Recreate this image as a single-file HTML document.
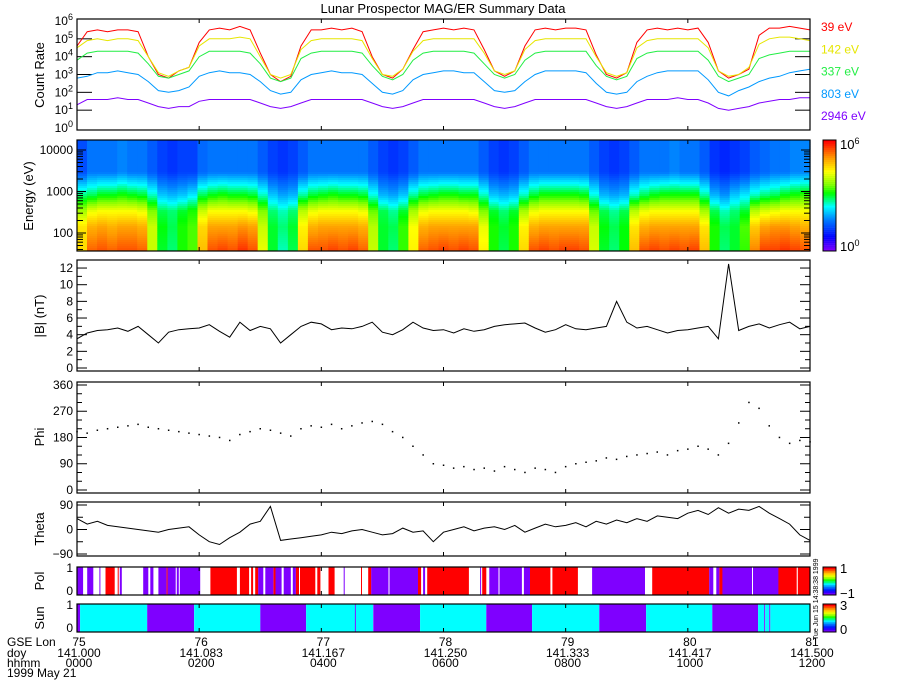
<!DOCTYPE html>
<html><head><meta charset="utf-8"><style>
html,body{margin:0;padding:0;background:#fff;}
svg{display:block;font-family:"Liberation Sans",sans-serif;}
text{font-size:12px;fill:#000;}
</style></head><body>
<svg id="chart" width="900" height="700" viewBox="0 0 900 700" xmlns="http://www.w3.org/2000/svg">
<rect x="0" y="0" width="900" height="700" fill="#fff"/>
<text x="443" y="13" text-anchor="middle" style="font-size:13px">Lunar Prospector MAG/ER Summary Data</text>
<g id="g"></g>
</svg>
<script>
// ---- data (10-minute samples, 0000-1200 UT) ----
const lonTicks = ["75","76","77","78","79","80","81"];
const doyTicks = ["141.000","141.083","141.167","141.250","141.333","141.417","141.500"];
const hhmmTicks = ["0000","0200","0400","0600","0800","1000","1200"];
const channelNames = ["39 eV","142 eV","337 eV","803 eV","2946 eV"];
const channelEnergy = [39,142,337,803,2946];
const log39 = [4.6,5.4,5.5,5.4,5.5,5.5,5.4, 4.0,3.0,2.8,3.2,3.4, 4.8,5.5,5.6,5.5,5.7,5.5, 4.2,3.0,2.6,2.9, 4.6,5.5,5.5,5.6,5.5,5.6,5.4, 4.0,3.0,2.8,3.3, 4.4,5.4,5.5,5.6,5.5,5.6,5.5, 4.4,3.2,2.9,3.2, 4.6,5.5,5.6,5.5,5.6,5.6,5.5, 4.1,3.0,2.8,3.1, 4.8,5.5,5.6,5.5,5.6,5.5,5.6, 4.8,3.2,2.8,3.0,3.3, 5.2,5.6,5.6,5.7,5.6,5.5];
const log142 = [4.5,4.9,5.0,4.9,5.0,5.0,4.9, 4.0,3.1,2.9,3.2,3.4, 4.6,5.0,5.0,5.0,5.1,5.0, 4.0,3.0,2.8,3.0, 4.4,4.9,5.0,5.0,5.0,5.0,4.9, 3.9,3.0,2.9,3.3, 4.3,4.9,5.0,5.0,5.0,5.0,5.0, 4.2,3.2,3.0,3.2, 4.4,4.9,5.0,5.0,5.0,5.0,5.0, 4.0,3.1,2.9,3.1, 4.5,4.9,5.0,5.0,5.0,5.0,5.0, 4.5,3.2,2.9,3.0,3.4, 4.7,5.0,5.1,5.1,5.0,4.9];
const log337 = [3.8,4.2,4.3,4.3,4.3,4.3,4.2, 3.6,2.9,2.8,3.0,3.2, 4.0,4.3,4.3,4.3,4.3,4.2, 3.6,2.8,2.6,2.8, 3.9,4.2,4.3,4.3,4.3,4.3,4.2, 3.5,2.9,2.7,3.0, 3.8,4.2,4.3,4.3,4.3,4.3,4.2, 3.6,3.0,2.8,3.0, 3.8,4.2,4.3,4.3,4.3,4.3,4.3, 3.5,2.9,2.7,2.9, 3.9,4.2,4.3,4.3,4.3,4.3,4.3, 3.8,2.9,2.6,2.8,3.0, 3.9,4.1,4.2,4.3,4.3,4.3];
const log803 = [2.8,2.9,3.1,3.1,3.2,3.1,3.0, 2.6,2.1,2.0,2.1,2.3, 2.9,3.1,3.2,3.1,3.1,3.0, 2.6,2.1,1.9,2.0, 2.7,3.0,3.1,3.2,3.1,3.1,3.0, 2.5,2.0,1.9,2.1, 2.7,3.0,3.1,3.2,3.2,3.1,3.1, 2.6,2.1,2.0,2.1, 2.6,3.0,3.2,3.2,3.2,3.2,3.1, 2.5,2.0,1.9,2.0, 2.6,2.9,3.1,3.2,3.2,3.2,3.2, 2.7,2.0,1.8,2.1,2.3, 2.6,2.8,2.9,3.1,3.2,3.3];
const log2946 = [1.3,1.6,1.6,1.6,1.7,1.6,1.6, 1.4,1.2,1.1,1.2,1.2, 1.5,1.6,1.6,1.6,1.6,1.6, 1.4,1.2,1.1,1.2, 1.4,1.6,1.6,1.6,1.6,1.6,1.6, 1.4,1.2,1.1,1.2, 1.4,1.6,1.6,1.6,1.6,1.6,1.6, 1.4,1.2,1.1,1.2, 1.4,1.6,1.6,1.6,1.6,1.6,1.6, 1.4,1.2,1.1,1.2, 1.4,1.6,1.6,1.6,1.7,1.6,1.6, 1.4,1.1,1.0,1.1,1.2, 1.4,1.5,1.6,1.6,1.7,1.7];
const bMag = [3.5,4.2,4.5,4.6,4.8,4.4,5.0,4.0,3.0,4.3,4.6,4.7,4.8,5.2,4.4,3.7,5.5,4.5,5.0,4.7,3.0,4.0,5.0,5.5,5.3,4.6,4.8,4.7,5.0,5.5,4.3,4.0,4.6,5.5,4.8,4.5,4.6,4.2,4.7,4.4,4.6,5.0,5.2,5.3,5.4,4.8,4.3,4.6,5.2,4.7,4.6,4.8,5.0,8.0,5.5,4.8,5.0,4.6,4.2,4.5,4.6,4.8,5.0,3.5,12.5,4.5,5.0,5.3,4.8,5.2,5.5,4.7,5.0];
const phiDeg = [200,195,205,210,215,220,225,215,210,205,200, 195,190,185,180,170,190,200,210,205,195,185, 210,220,215,225,210,220,230,235,225,200,180, 150,120,90,85,75,80,70,75,65,80,70,60,75,70,60,80,90,95,100,110,105,115,120,125,130,120,135,140,150,140,120,160,230,300,280,220,180,160,170,165];
const thetaDeg = [40,20,30,15,10,5,0,-5,-10,0,5,10, -20,-45,-55,-30,-10,20,30,85,-40,-35,-30,-25,-20,-10,-15,-5,0,-10,-20,-15, 5,-10,-5,-45,-10,0,10,-5,5,10,0,15,-10,5,20,10,15,25,10,30, 20,35,25,40,30,50,45,40,60,70,55,80,60,75,70,85,60,40,20,-20,-40];
const polStart = [0,6,10,16,22,23,28,37,40,41,42,44,65,70,72,75,80,88,89,97,98,100,101,121,131,157,160,169,171,173,175,178,183,185,193,195,201,203,210,212,215,218,219,234,236,239,247,253,262,263,279,280,286,289,306,307,335,338,340,342,344,385,396,397,398,402,405,414,415,437,439,445,465,467,492,506,558,565,621,625,628,631,634,638,663,664,689,707,708];
const polVal   = [-1,0,-1,0,-1,0,1,0,1,0,-1,0,-1,0,-1,0,-1,1,-1,0,-1,0,-1,0,1,0,1,0,1,0,1,-1,0,-1,1,-1,0,-1,0,-1,1,0,1,0,1,0,1,0,-1,0,1,0,1,-1,0,-1,1,0,-1,0,1,0,-1,0,1,0,-1,0,-1,0,-1,1,0,1,0,-1,0,1,-1,0,-1,1,-1,-1,0,-1,1,0,1];
const sunStart = [0,3,69,115,180,225,273,274,291,337,402,447,513,559,624,669,675,676,680,681];
const sunVal   = [0,1,0,1,0,1,0,1,0,1,0,1,0,1,0,1,0,1,0,1];

const NS="http://www.w3.org/2000/svg";
const G=document.getElementById('g');
function mk(tag,attrs,parent){const e=document.createElementNS(NS,tag);for(const k in attrs)e.setAttribute(k,attrs[k]);(parent||G).appendChild(e);return e;}
const X0=77,X1=810;
function xMin(m){return X0+(X1-X0)*m/720;}
function xIdx(i,n){return X0+(X1-X0)*i/(n-1);}
function rainbow(f){
  const st=[[0,125,0,255],[0.12,0,0,255],[0.28,0,128,255],[0.4,0,255,255],[0.52,0,255,0],[0.6,128,255,0],[0.72,255,255,0],[0.85,255,150,0],[1,255,0,0]];
  f=Math.max(0,Math.min(1,f));
  for(let k=1;k<st.length;k++){if(f<=st[k][0]){const a=st[k-1],b=st[k],t=(f-a[0])/(b[0]-a[0]);return `rgb(${Math.round(a[1]+t*(b[1]-a[1]))},${Math.round(a[2]+t*(b[2]-a[2]))},${Math.round(a[3]+t*(b[3]-a[3]))})`;}}
  return 'rgb(255,0,0)';
}
function label(txt,x,y,opts){const t=mk('text',Object.assign({x:x,y:y},opts||{}));t.textContent=txt;return t;}
function ylabel(txt,cx,cy,name){const t=mk('text',{x:cx,y:cy,'text-anchor':'middle',transform:`rotate(-90 ${cx} ${cy})`,style:'font-size:13px'});t.textContent=txt;

}
function frame(y0,y1,name){const r=mk('rect',{x:X0,y:y0,width:X1-X0,height:y1-y0,fill:'none',stroke:'#000','stroke-width':1.2});


for(let k=0;k<lonTicks.length;k++){const x=X0+(X1-X0)*k/(lonTicks.length-1);mk('line',{x1:x,x2:x,y1:y0,y2:y0+4,stroke:'#000'});mk('line',{x1:x,x2:x,y1:y1,y2:y1-4,stroke:'#000'});}}
function yTick(y,len){mk('line',{x1:X0,x2:X0+len,y1:y,y2:y,stroke:'#000'});mk('line',{x1:X1,x2:X1-len,y1:y,y2:y,stroke:'#000'});}

// ---- Panel 1: count rate ----
const P1={y0:19,y1:130};
function yCR(v){return 128-v*(107/6);}
const crSeries=[log39,log142,log337,log803,log2946];
const crColors=['#ff0000','#e6e600','#22ee44','#0099ff','#7f00ff'];
for(let d=0;d<=6;d++){const y=yCR(d);if(d>0&&d<6)yTick(y,15);
 const t=mk('text',{x:73,y:y+4,'text-anchor':'end'});t.innerHTML=`10<tspan dy="-5" style="font-size:9px">${d}</tspan>`;
 
 }
crSeries.forEach((s,si)=>{
 const pts=s.map((v,i)=>xIdx(i,s.length).toFixed(1)+','+yCR(v).toFixed(1)).join(' ');
 const pl=mk('polyline',{points:pts,fill:'none',stroke:crColors[si],'stroke-width':1});
 
 
 const lt=label(channelNames[si],821,31+si*22.3,{style:'fill:'+crColors[si]});
 
 
});
frame(P1.y0,P1.y1,'count-rate-panel');
ylabel('Count Rate',44,75,'count-rate-axis-title');

// ---- Panel 2: spectrogram ----
const P2={y0:140,y1:251};
function yE(le){return 233-(le-2)*41.5;}
const leTop=2+(233-P2.y0)/41.5, leBot=2-(P2.y1-233)/41.5;
const cLog=channelEnergy.map(e=>Math.log10(e));
function specVal(i,le){
 const v=crSeries.map(s=>s[i]);
 if(le<=cLog[0])return v[0];
 if(le>=cLog[4])return v[4];
 for(let k=1;k<5;k++){if(le<=cLog[k]){const t=(le-cLog[k-1])/(cLog[k]-cLog[k-1]);return v[k-1]+t*(v[k]-v[k-1]);}}
}
const nCol=log39.length, rowH=2;
for(let i=0;i<nCol;i++){
 const xa=X0+(X1-X0)*i/nCol, xb=X0+(X1-X0)*(i+1)/nCol;
 for(let y=P2.y0;y<P2.y1;y+=rowH){
  const le=2-((y+rowH/2)-233)/41.5;
  const c=mk('rect',{x:xa.toFixed(1),y:y,width:(xb-xa+0.6).toFixed(1),height:Math.min(rowH+0.3,P2.y1-y),fill:rainbow(specVal(i,le)/6)});
  
  
 }
}
[[100,'100'],[1000,'1000'],[10000,'10000']].forEach(([e,s])=>{const t=label(s,73,yE(Math.log10(e))+4,{'text-anchor':'end'});
 
 });
for(let dec=1;dec<=4;dec++)for(let m=1;m<10;m++){const le=dec+Math.log10(m);if(le<leBot||le>leTop)continue;yTick(yE(le),m===1?9:6);}
frame(P2.y0,P2.y1,'spectrogram-panel');
ylabel('Energy (eV)',33,196,'energy-axis-title');
for(let k=0;k<56;k++){const y=P2.y1-(k+1)*(P2.y1-P2.y0)/56;const r=mk('rect',{x:823,y:y.toFixed(1),width:13,height:2.2,fill:rainbow(k/55)});
 
 }
mk('rect',{x:823,y:P2.y0,width:13,height:P2.y1-P2.y0,fill:'none',stroke:'#000'});
{const t=mk('text',{x:840,y:149,style:'font-size:13px'});t.innerHTML='10<tspan dy="-5" style="font-size:9px">6</tspan>';
 
 }
{const t=mk('text',{x:840,y:251,style:'font-size:13px'});t.innerHTML='10<tspan dy="-5" style="font-size:9px">0</tspan>';
 
 }

// ---- Panel 3: |B| ----
const P3={y0:260,y1:371};
function yB(b){return 368-b*8.33;}
for(let b=0;b<=12;b++){yTick(yB(b),b%2===0?10:5);if(b%2===0){const t=label(String(b),73,yB(b)+4,{'text-anchor':'end'});
 
 }}
{const pl=mk('polyline',{points:bMag.map((v,i)=>xIdx(i,bMag.length).toFixed(1)+','+yB(v).toFixed(1)).join(' '),fill:'none',stroke:'#000','stroke-width':1});
 
 }
frame(P3.y0,P3.y1,'bmag-panel');
ylabel('|B| (nT)',44,316,'bmag-axis-title');

// ---- Panel 4: Phi ----
const P4={y0:382,y1:493};
function yP(p){return 490-p*0.2917;}
for(let p=0;p<=360;p+=30){yTick(yP(p),p%90===0?10:5);if(p%90===0){const t=label(String(p),73,yP(p)+4,{'text-anchor':'end'});
 
 }}
phiDeg.forEach((p,i)=>{const r=mk('rect',{x:(xIdx(i,phiDeg.length)-0.75).toFixed(1),y:(yP(p)-0.75).toFixed(1),width:1.5,height:1.5,fill:'#000'});
 
 });
frame(P4.y0,P4.y1,'phi-panel');
ylabel('Phi',44,437,'phi-axis-title');

// ---- Panel 5: Theta ----
const P5={y0:502,y1:556};
function yT(t){return 529.5-t*0.2722;}
for(let t=-90;t<=90;t+=45){yTick(yT(t),t%90===0?10:6);if(t%90===0){const tx=label(t===-90?'−90':String(t),73,yT(t)+4,{'text-anchor':'end'});
 
 }}
{const pl=mk('polyline',{points:thetaDeg.map((v,i)=>xIdx(i,thetaDeg.length).toFixed(1)+','+yT(v).toFixed(1)).join(' '),fill:'none',stroke:'#000','stroke-width':1});
 
 }
frame(P5.y0,P5.y1,'theta-panel');
ylabel('Theta',44,529,'theta-axis-title');

// ---- Panel 6: Pol ----
const P6={y0:567,y1:595};
polStart.forEach((m,k)=>{const end=k+1<polStart.length?polStart[k+1]:720;const v=polVal[k];if(v===0)return;
 const r=mk('rect',{x:xMin(m).toFixed(1),y:P6.y0,width:(xMin(end)-xMin(m)).toFixed(1),height:P6.y1-P6.y0,fill:v>0?'#ff0000':'#7f00ff'});
 
 });
frame(P6.y0,P6.y1,'polarity-panel');
ylabel('Pol',44,581,'polarity-axis-title');
[['1',P6.y0+5],['0',P6.y1]].forEach(([s,y])=>{const t=label(s,73,y,{'text-anchor':'end'});
 
 });

// ---- Panel 7: Sun ----
const P7={y0:604,y1:632};
sunStart.forEach((m,k)=>{const end=k+1<sunStart.length?sunStart[k+1]:720;
 const r=mk('rect',{x:xMin(m).toFixed(1),y:P7.y0,width:(xMin(end)-xMin(m)).toFixed(1),height:P7.y1-P7.y0,fill:sunVal[k]?'#00ffff':'#7f00ff'});
 
 });
frame(P7.y0,P7.y1,'sun-panel');
ylabel('Sun',44,618,'sun-axis-title');
[['1',P7.y0+5],['0',P7.y1]].forEach(([s,y])=>{const t=label(s,73,y,{'text-anchor':'end'});
 
 });

function smallBar(y0,y1,name){for(let k=0;k<14;k++){const y=y1-(k+1)*(y1-y0)/14;const r=mk('rect',{x:823,y:y.toFixed(1),width:13,height:2.3,fill:rainbow(k/13)});
 
 }
 mk('rect',{x:823,y:y0,width:13,height:y1-y0,fill:'none',stroke:'#000'});}
smallBar(P6.y0,P6.y1,'polarity-colorbar-step');
smallBar(P7.y0,P7.y1,'sun-colorbar-step');
[['1',840,573],['−1',840,598],['3',840,610],['0',840,634]].forEach(([s,x,y])=>{const t=label(s,x,y,{style:'font-size:13px'});
 
 });
{const t=mk('text',{x:818,y:640,transform:'rotate(-90 818 640)',style:'font-size:7px'});t.textContent='Tue Jun 15 14:38:38 1999';
 
 }

// ---- bottom axis labels ----
[['GSE Lon',646],['doy',657],['hhmm',667],['1999 May 21',677]].forEach(([s,y])=>{const t=label(s,7,y);
 
 });
for(let k=0;k<lonTicks.length;k++){const x=X0+(X1-X0)*k/(lonTicks.length-1);
 [[lonTicks[k],646],[doyTicks[k],657],[hhmmTicks[k],667]].forEach(([s,y])=>{const t=label(s,x+2,y,{'text-anchor':'middle'});
  
  });}
</script>
</body></html>
